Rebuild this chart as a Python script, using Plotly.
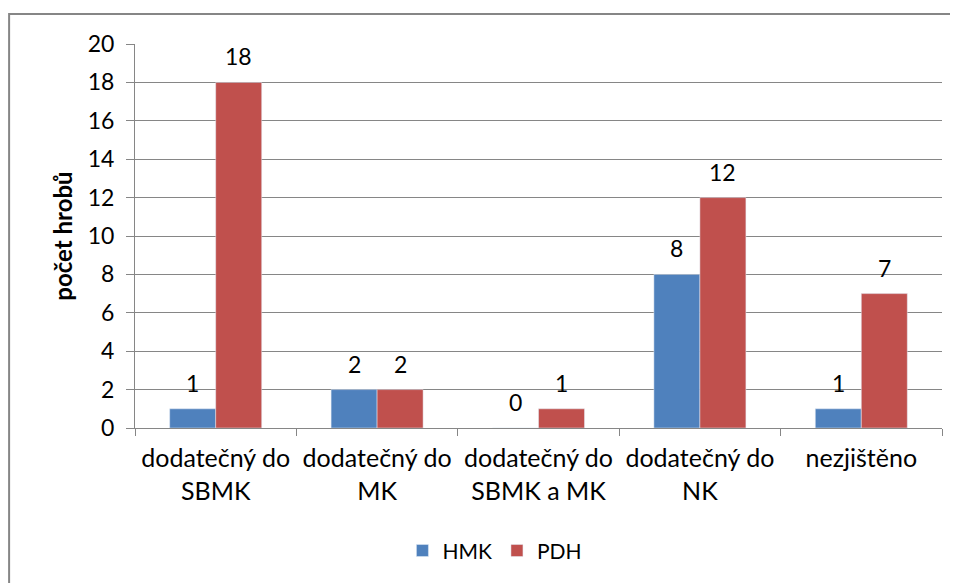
import plotly.graph_objects as go

categories = [
    "dodatečný do<br>SBMK",
    "dodatečný do<br>MK",
    "dodatečný do<br>SBMK a MK",
    "dodatečný do<br>NK",
    "nezjištěno",
]
hmk = [1, 2, 0, 8, 1]
pdh = [18, 2, 1, 12, 7]

family = "Lato, Open Sans, sans-serif"
num_font = dict(family=family, size=23, color="#000000")
cat_font = dict(family=family, size=25, color="#000000")

fig = go.Figure()
fig.add_trace(go.Bar(x=categories, y=hmk, name="HMK", marker=dict(color="#4F81BD")))
fig.add_trace(go.Bar(x=categories, y=pdh, name="PDH", marker=dict(color="#C0504D")))

# data labels, sitting a bit higher above the bars like Excel does
for vals, shift in ((hmk, -23), (pdh, 23)):
    for cat, v in zip(categories, vals):
        fig.add_annotation(x=cat, y=v, text=str(v), showarrow=False,
                           xshift=shift, yshift=26, yanchor="middle",
                           font=num_font)

# chart border (Excel-style frame), runs off the right and bottom edges
fig.add_shape(
    type="path", xref="paper", yref="paper",
    path="M 1.3 1.078 L -0.156 1.078 L -0.156 -0.6",
    line=dict(color="#868686", width=2),
)

# page body has an 8px margin, so keep the figure inside the window
fig.update_layout(
    width=950, height=575,
    margin=dict(l=127, r=16, t=36, b=155),
    plot_bgcolor="white", paper_bgcolor="white",
    font=num_font,
    barmode="group", bargap=0.43, bargroupgap=0,
    showlegend=True,
    legend=dict(orientation="h", x=0.446, xanchor="center", y=-0.32, yanchor="middle",
                font=dict(family=family, size=21, color="#000000")),
    xaxis=dict(
        automargin=False,
        showline=True, linecolor="#868686", linewidth=1,
        ticks="outside", tickson="boundaries", ticklen=7, tickcolor="#868686",
        tickfont=cat_font, ticklabelstandoff=8,
    ),
    yaxis=dict(
        automargin=False,
        range=[0, 20], dtick=2,
        showgrid=True, gridcolor="#868686", gridwidth=1,
        showline=True, linecolor="#868686", linewidth=1,
        ticks="outside", ticklen=8, tickcolor="#868686",
        tickfont=num_font, zeroline=False, ticklabelstandoff=7,
        title=dict(text="<b>počet hrobů</b>", font=dict(family=family, size=24, color="#000000"),
                   standoff=8),
    ),
)

fig.write_html("out.html")
